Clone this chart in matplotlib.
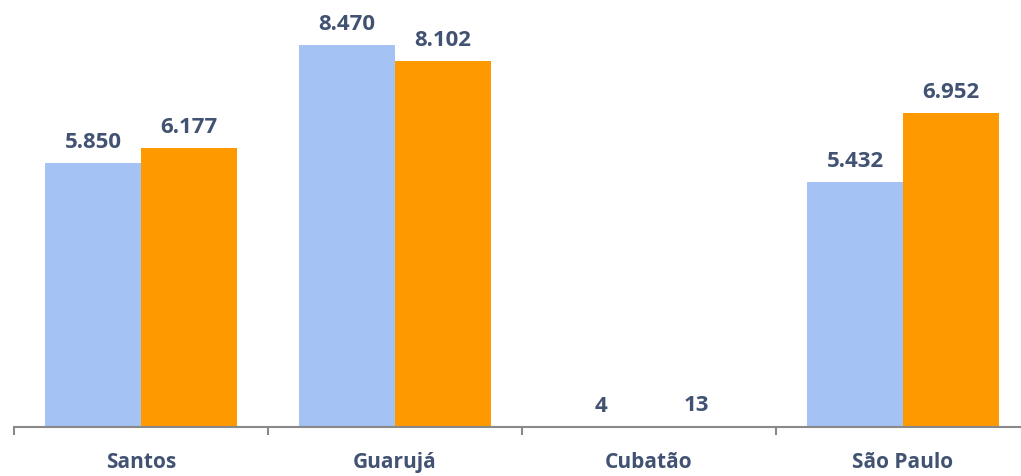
import matplotlib.pyplot as plt
import numpy as np

plt.rcParams['font.family'] = ['Open Sans', 'DejaVu Sans']

categories = ['Santos', 'Guarujá', 'Cubatão', 'São Paulo']
serie_a = [5850, 8470, 4, 5432]
serie_b = [6177, 8102, 13, 6952]

blue = '#A4C2F4'
orange = '#FF9900'
txt = '#425272'

fig = plt.figure(figsize=(10.21, 4.77), dpi=100)
# axes runs a bit past the right edge, as in the original
ax = fig.add_axes([14 / 1021, 1 - 428 / 477, 1016 / 1021, 428 / 477])

x = np.arange(len(categories))
w = 0.376
ax.bar(x - w / 2, serie_a, w, color=blue)
ax.bar(x + w / 2, serie_b, w, color=orange)

for xs, vals in [(x - w / 2, serie_a), (x + w / 2, serie_b)]:
    for xi, v in zip(xs, vals):
        ax.annotate(f'{v:,}'.replace(',', '.'), (xi, v), xytext=(0, 8), textcoords='offset points',
                    ha='center', va='bottom', fontsize=16, fontweight='bold', color=txt)

ax.set_xlim(-0.5, len(categories) - 0.5)
ax.set_ylim(0, 9484)
ax.set_xticks(x)
ax.set_xticklabels(categories, fontsize=15, fontweight='bold', color=txt)
ax.set_xticks(np.arange(len(categories) + 1) - 0.5, minor=True)
ax.tick_params(axis='x', which='major', length=0, pad=17)
ax.tick_params(axis='x', which='minor', length=6, width=1.5, color='#898989')
ax.set_yticks([])
for s in ['top', 'right', 'left']:
    ax.spines[s].set_visible(False)
ax.spines['bottom'].set_color('#898989')
ax.spines['bottom'].set_linewidth(1.5)

plt.savefig('out.png', dpi=100)
